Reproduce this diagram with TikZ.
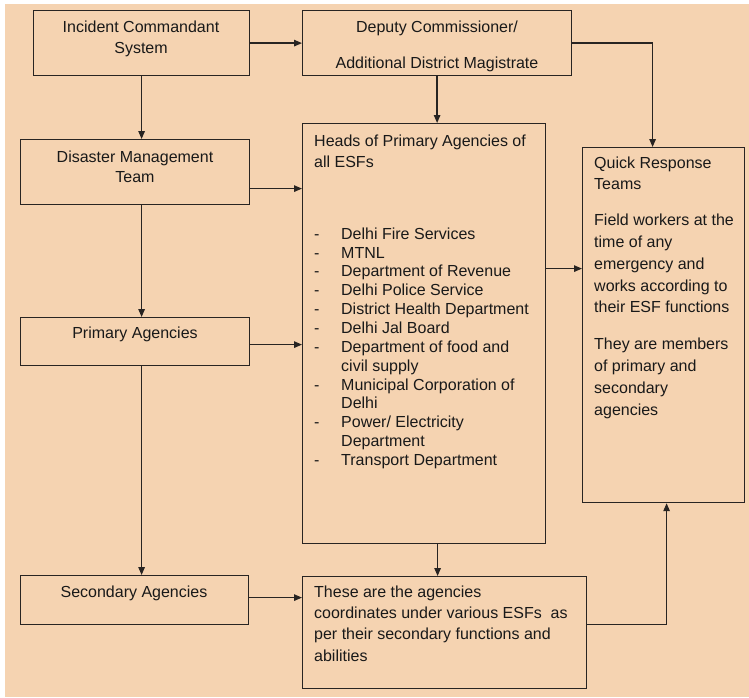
\documentclass[tikz,border=0pt]{standalone}
\usepackage{fontspec}
\setmainfont{Liberation Sans}
\usetikzlibrary{arrows.meta}
\definecolor{peach}{RGB}{245,211,177}
\definecolor{ink}{RGB}{40,36,34}
\newcommand\topstrut{\rule{0pt}{13pt}}
\begin{document}
\begin{tikzpicture}[x=1pt,y=-1pt,
  box/.style={draw=ink, line width=1.2pt, fill=none, inner sep=0pt, anchor=north west},
  label/.style={inner sep=0pt, text=black!90, font=\fontsize{16}{21}\selectfont},
  link/.style={draw=ink, line width=1.3pt, -{Triangle[length=8pt,width=6.5pt]}}]
  % page and background
  \useasboundingbox (0,0) rectangle (749,697);
  \fill[peach] (5,4) rectangle (749,697);

  % boxes
  \node[box, minimum width=216pt, minimum height=65pt]  (ics)   at (33,10)  {};
  \node[box, minimum width=269pt, minimum height=65pt]  (dc)    at (302,10) {};
  \node[box, minimum width=229pt, minimum height=65pt]  (dmt)   at (20,139) {};
  \node[box, minimum width=229pt, minimum height=48pt]  (prim)  at (20,317) {};
  \node[box, minimum width=228pt, minimum height=49pt]  (sec)   at (20,575) {};
  \node[box, minimum width=243pt, minimum height=420pt] (heads) at (302,123) {};
  \node[box, minimum width=162pt, minimum height=355pt] (qrt)   at (582,147) {};
  \node[box, minimum width=284pt, minimum height=112pt] (bot)   at (302,576) {};

  % texts
  \node[label, align=center, anchor=north] (ics-t) at (141,19)
    {\topstrut Incident Commandant\\System};
  \node[label, align=center, anchor=north] (dc-t) at (437,19)
    {\topstrut Deputy Commissioner/\\[15pt]Additional District Magistrate};
  \node[label, align=center, anchor=north, font=\fontsize{16}{20}\selectfont] (dmt-t) at (135,149)
    {\topstrut Disaster Management\\Team};
  \node[label, anchor=north] (prim-t) at (135,325) {\topstrut Primary Agencies};
  \node[label, anchor=north] (sec-t) at (134,584) {\topstrut Secondary Agencies};
  \node[label, align=left, anchor=north west] (heads-t) at (314,133)
    {\topstrut Heads of Primary Agencies of\\all ESFs};
  \node[label, align=left, anchor=north west, font=\fontsize{16}{18.85}\selectfont] (heads-l) at (314,226)
    {\topstrut\makebox[27pt][l]{-}Delhi Fire Services\\
     \makebox[27pt][l]{-}MTNL\\
     \makebox[27pt][l]{-}Department of Revenue\\
     \makebox[27pt][l]{-}Delhi Police Service\\
     \makebox[27pt][l]{-}District Health Department\\
     \makebox[27pt][l]{-}Delhi Jal Board\\
     \makebox[27pt][l]{-}Department of food and\\
     \hspace*{27pt}civil supply\\
     \makebox[27pt][l]{-}Municipal Corporation of\\
     \hspace*{27pt}Delhi\\
     \makebox[27pt][l]{-}Power/ Electricity\\
     \hspace*{27pt}Department\\
     \makebox[27pt][l]{-}Transport Department};
  \node[label, align=left, anchor=north west, font=\fontsize{16}{21.7}\selectfont] (qrt-t) at (594,155)
    {\topstrut Quick Response\\Teams\\[14.3pt]
     Field workers at the\\time of any\\emergency and\\works according to\\their ESF functions\\[15.5pt]
     They are members\\of primary and\\secondary\\agencies};
  \node[label, align=left, anchor=north west, font=\fontsize{16}{21.3}\selectfont] (bot-t) at (314,584)
    {\topstrut These are the agencies\\
     coordinates under various ESFs\ \ as\\
     per their secondary functions and\\
     abilities};

  % connectors
  \draw[link] (ics.east) -- (dc.west);
  \draw[link] (dc.south) -- (dc.south |- heads.north);
  \draw[link] (dc.east) -| ([xshift=-11pt]qrt.north);
  \draw[link] (ics.south) -- (ics.south |- dmt.north);
  \draw[link] ([yshift=-16.5pt]dmt.east) coordinate (dmt-o) -- (dmt-o -| heads.west);
  \draw[link] ([xshift=6.5pt]dmt.south) coordinate (dmt-s) -- (dmt-s |- prim.north);
  \draw[link] ([yshift=-3pt]prim.east) coordinate (prim-o) -- (prim-o -| heads.west);
  \draw[link] ([xshift=6.5pt]prim.south) coordinate (prim-s) -- (prim-s |- sec.north);
  \draw[link] ([yshift=65pt]heads.east) coordinate (heads-o) -- (heads-o -| qrt.west);
  \draw[link] ([xshift=13.5pt]heads.south) coordinate (heads-s) -- (heads-s |- bot.north);
  \draw[link] ([yshift=2.5pt]sec.east) coordinate (sec-o) -- (sec-o -| bot.west);
  \draw[link] ([yshift=8pt]bot.east) -| ([xshift=3pt]qrt.south);
\end{tikzpicture}
\end{document}
